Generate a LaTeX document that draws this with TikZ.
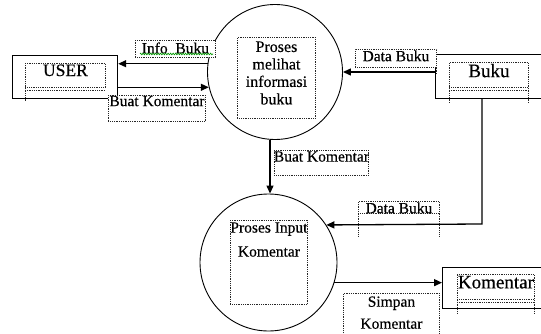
\documentclass[tikz,border=0pt]{standalone}
\usepackage{fontspec}
\setmainfont{Liberation Serif}[FakeBold=0.4]
\usetikzlibrary{arrows.meta,decorations.pathmorphing}
\newcommand\tbox[4]{\parbox[b][#2pt][t]{#1pt}{\vspace*{#3pt}#4}}
\newcommand\cl[1]{\makebox[\linewidth]{#1}\par}
\begin{document}
\begin{tikzpicture}[x=1pt,y=-1pt,
  store/.style={draw, line width=1.2pt, inner sep=0, anchor=north west},
  proc/.style={circle, draw, line width=0.9pt, inner sep=0},
  dotbox/.style={draw=black!85, dash pattern=on 0.9pt off 0.9pt, line width=0.9pt, fill=white, inner sep=0, anchor=north west},
  dotline/.style={draw=black!85, dash pattern=on 0.9pt off 0.9pt, line width=0.9pt},
  flow/.style={line width=1.3pt, -{Triangle[length=8pt,width=7pt]}},
  flowfont/.style={font=\fontsize{15.5}{22}\selectfont}
]
\useasboundingbox (0,0) rectangle (541,334);

% stores
\node[store, minimum width=105, minimum height=43] (user) at (12,55) {};
\node[store, minimum width=115, minimum height=44] (buku) at (435,54) {};
\node[store, minimum width=110, minimum height=41] (koment) at (442,267) {};

% processes
\node[proc, minimum size=135] (p1) at (275,72) {};
\node[proc, minimum size=137] (p2) at (268.5,262.5) {};

% connectors
\coordinate (down) at (270,0);
\coordinate (bend) at (482,224);
\draw[flow] (p1.173) -- (user.east |- p1.173);
\draw[flow] (user.east |- p1.193) -- (p1.193);
\draw[flow] (buku.west |- p1.east) -- (p1.east);
\draw[flow] (p1.south -| down) -- (p2.north -| down);
\draw[flow] (bend |- buku.south) -- (bend) -- (p2.33.4);
\draw[flow] (p2.343.5) -- (koment.west |- p2.343.5);

% store texts
\node[dotbox, font=\fontsize{17.5}{20}\selectfont] (usert) at (25,63) {\tbox{80}{24}{1}{\cl{USER}}};
\node[dotbox, font=\fontsize{19}{21}\selectfont] (bukut) at (449,62) {\tbox{79}{25}{1.5}{\cl{Buku}}};
\node[dotbox, font=\fontsize{19}{21}\selectfont] (komt) at (457,274) {\tbox{77}{25}{1.5}{\cl{Komentar}}};
\draw[dotline] (usert.south west) -- ++(0,14);
\draw[dotline] ([yshift=-2.5pt]usert.south west) -- ([yshift=-2.5pt]usert.south east);
\draw[dotline] (bukut.south west) -- ++(0,15);
\draw[dotline] (bukut.south east) -- ++(0,15);
\draw[dotline] ([yshift=-2.5pt]bukut.south west) -- ([yshift=-2.5pt]bukut.south east);
\draw[dotline] (komt.south west) -- ++(0,14);
\draw[dotline] (komt.south east) -- ++(0,14);
\draw[dotline] ([yshift=-2.5pt]komt.south west) -- ([yshift=-2.5pt]komt.south east);

% process texts
\node[dotbox, font=\fontsize{16}{17.5}\selectfont] (p1t) at (237,37) {\tbox{78}{81}{4}{\cl{Proses}\cl{melihat}\cl{informasi}\cl{buku}}};
\node[dotbox, font=\fontsize{15.5}{24}\selectfont] (p2t) at (230,220) {\tbox{77}{84}{2}{\cl{Proses Input}\cl{Komentar}}};

% flow labels
\node[dotbox, flowfont] (info) at (135,40) {\tbox{80}{17}{2}{\cl{Info\ \ Buku}}};
\draw[green!60!black, line width=0.6pt, decorate, decoration={zigzag, amplitude=0.9pt, segment length=2.5pt}] (140,54) -- (213,54);
\node[dotbox, flowfont] (bk1) at (108,95) {\tbox{97}{26}{0.5}{\cl{Buat Komentar}}};
\node[dotbox, flowfont] (db1) at (355,49) {\tbox{81}{18}{1}{\cl{Data Buku}}};
\draw[dotline] (db1.south east) -- ++(0,7);
\node[dotbox, flowfont] (bk2) at (274,150) {\tbox{94}{25}{1}{\cl{Buat Komentar}}};
\node[dotbox, flowfont] (db2) at (358,201) {\tbox{81}{12}{1}{\cl{Data Buku}}};
\draw[dotline] (db2.south west) -- ++(0,23);
\draw[dotline] (db2.south east) -- ++(0,23);
\node[dotbox, flowfont] (sk) at (343,293) {\tbox{96}{45}{3}{\cl{Simpan}\cl{Komentar}}};
\end{tikzpicture}
\end{document}
